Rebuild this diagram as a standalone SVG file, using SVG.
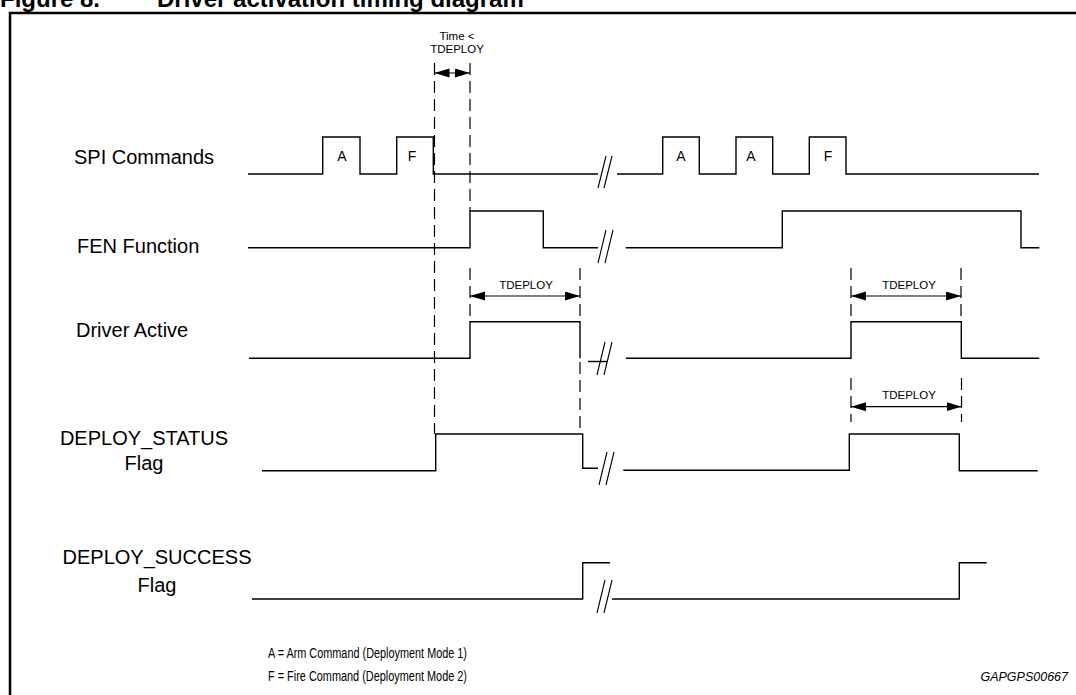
<svg xmlns="http://www.w3.org/2000/svg" width="1076" height="695" viewBox="0 0 1076 695">
<defs>
<marker id="ah" markerUnits="userSpaceOnUse" markerWidth="16" markerHeight="10" refX="15" refY="4.5" orient="auto-start-reverse">
<path d="M0,0 L15,4.5 L0,9 z" fill="#000"/>
</marker>
</defs>
<style>
.sig{fill:none;stroke:#000;stroke-width:1.4}
.brk{fill:none;stroke:#000;stroke-width:1.1}
.dash{fill:none;stroke:#000;stroke-width:1.2;stroke-dasharray:12 6}
.arr{fill:none;stroke:#000;stroke-width:1.2}
.lbl{font-family:"Liberation Sans",Arial,sans-serif;font-size:20px;fill:#000}
.pl{font-family:"Liberation Sans",Arial,sans-serif;font-size:14px;fill:#000;text-anchor:middle}
.td{font-family:"Liberation Sans",Arial,sans-serif;font-size:11.5px;fill:#000;text-anchor:middle}
.leg{font-family:"Liberation Sans",Arial,sans-serif;font-size:14px;fill:#000}
</style>
<rect width="1076" height="695" fill="#fff"/>
<g id="title">
<text x="0" y="7" font-family="Liberation Sans,Arial,sans-serif" font-weight="bold" font-size="24">Figure 8.</text>
<text x="157" y="7" font-family="Liberation Sans,Arial,sans-serif" font-weight="bold" font-size="24">Driver activation timing diagram</text>
</g>
<g id="frame">
<path d="M10,700 V13 H1076" fill="none" stroke="#000" stroke-width="2.5"/>
</g>
<g id="labels">
<text class="lbl" x="74" y="164">SPI Commands</text>
<text class="lbl" x="77" y="253">FEN Function</text>
<text class="lbl" x="76" y="337">Driver Active</text>
<text class="lbl" x="144" y="445" text-anchor="middle">DEPLOY_STATUS</text>
<text class="lbl" x="144" y="470" text-anchor="middle">Flag</text>
<text class="lbl" x="157" y="564" text-anchor="middle">DEPLOY_SUCCESS</text>
<text class="lbl" x="157" y="592" text-anchor="middle">Flag</text>
</g>
<g id="spi">
<polyline class="sig" points="248,174 322.7,174 322.7,137 360,137 360,174 396.7,174 396.7,137 433.3,137 433.3,174 598,174"/>
<path class="brk" d="M598,188 L606,156 M604,188 L612,156"/>
<polyline class="sig" points="617,174 662.7,174 662.7,137 699.3,137 699.3,174 736,174 736,137 772.7,137 772.7,174 809.3,174 809.3,137 846,137 846,174 1039,174"/>
<text class="pl" x="342" y="161">A</text>
<text class="pl" x="412" y="161">F</text>
<text class="pl" x="681" y="161">A</text>
<text class="pl" x="751" y="161">A</text>
<text class="pl" x="828" y="161">F</text>
</g>
<g id="fen">
<polyline class="sig" points="248,247.7 470,247.7 470,211 543.3,211 543.3,247.7 598,247.7"/>
<path class="brk" d="M598,263 L606,230 M605,263 L613,230"/>
<polyline class="sig" points="625.7,247.7 782.3,247.7 782.3,211 1021,211 1021,247.7 1039.3,247.7"/>
</g>
<g id="driver">
<polyline class="sig" points="249,358.3 470,358.3 470,321.7 580,321.7 580,358.3"/>
<line class="sig" x1="588" y1="361.5" x2="607" y2="361.5"/>
<path class="brk" d="M597,375 L605,342 M604,375 L612,342"/>
<polyline class="sig" points="626,358.3 851,358.3 851,321.7 961.3,321.7 961.3,358.3 1039.3,358.3"/>
</g>
<g id="status">
<polyline class="sig" points="262,470.7 435.7,470.7 435.7,434 582.7,434 582.7,468.3 598,468.3"/>
<path class="brk" d="M599,485 L607,452 M606,485 L614,452"/>
<polyline class="sig" points="623.3,470.3 849.3,470.3 849.3,434 959.3,434 959.3,470.7 1037.7,470.7"/>
</g>
<g id="success">
<polyline class="sig" points="252,599 582.7,599 582.7,562.7 610,562.7"/>
<path class="brk" d="M597,613 L605,580 M604,613 L612,580"/>
<polyline class="sig" points="612,599 959.3,599 959.3,562.7 986.7,562.7"/>
</g>
<g id="connectors">
<line class="dash" x1="434.5" y1="63" x2="434.5" y2="434"/>
<line class="dash" x1="470" y1="63" x2="470" y2="211"/>
<line class="arr" x1="434.5" y1="73" x2="470" y2="73" marker-start="url(#ah)" marker-end="url(#ah)"/>
<line class="dash" x1="470" y1="268" x2="470" y2="321"/>
<line class="dash" x1="580" y1="268" x2="580" y2="321"/>
<line class="dash" x1="580" y1="362" x2="580" y2="434"/>
<line class="arr" x1="470" y1="296" x2="580" y2="296" marker-start="url(#ah)" marker-end="url(#ah)"/>
<line class="dash" x1="851" y1="268" x2="851" y2="321"/>
<line class="dash" x1="961" y1="268" x2="961" y2="321"/>
<line class="arr" x1="851" y1="296" x2="961" y2="296" marker-start="url(#ah)" marker-end="url(#ah)"/>
<line class="dash" x1="851" y1="378" x2="851" y2="422"/>
<line class="dash" x1="961.5" y1="378" x2="961.5" y2="422"/>
<line class="arr" x1="851" y1="406.7" x2="961.5" y2="406.7" marker-start="url(#ah)" marker-end="url(#ah)"/>
</g>
<g id="annotations">
<text class="td" x="457" y="40">Time &lt;</text>
<text class="td" x="457" y="53">TDEPLOY</text>
<text class="td" x="526" y="289">TDEPLOY</text>
<text class="td" x="909" y="289">TDEPLOY</text>
<text class="td" x="909" y="399">TDEPLOY</text>
</g>
<g id="legend">
<text class="leg" x="268" y="658" textLength="199" lengthAdjust="spacingAndGlyphs">A = Arm Command (Deployment Mode 1)</text>
<text class="leg" x="268" y="681" textLength="199" lengthAdjust="spacingAndGlyphs">F = Fire Command (Deployment Mode 2)</text>
<text x="1068" y="681" font-family="Liberation Sans,Arial,sans-serif" font-size="12.5" font-style="italic" text-anchor="end">GAPGPS00667</text>
</g>
</svg>
